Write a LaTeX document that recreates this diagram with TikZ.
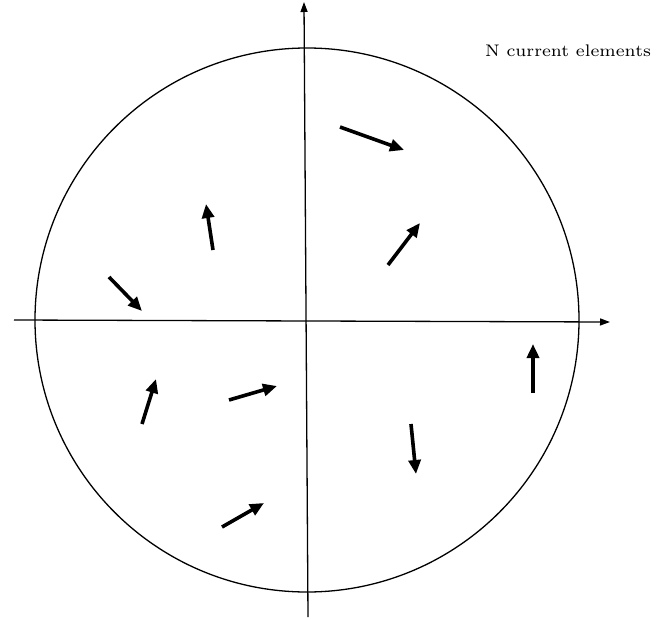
\documentclass[tikz,border=0pt]{standalone}
\usetikzlibrary{arrows.meta}
\begin{document}
\begin{tikzpicture}[x=1pt,y=-1pt,
  axis/.style={line width=1.3pt,-{Triangle[length=10pt,width=7pt]}},
  curr/.style={line width=3.6pt,-{Triangle[length=14pt,width=12pt]}},
  rim/.style={line width=1.3pt}]
\useasboundingbox (0,0) rectangle (664,621);
\node[rim,draw,circle,minimum size=544pt,inner sep=0pt] (c) at (307,320) {};
\coordinate (xl) at (14,320);
\coordinate (xr) at (610,322);
\coordinate (yb) at (308,617);
\coordinate (yt) at (304,2);
\draw[axis] (xl) -- (xr);
\draw[axis] (yb) -- (yt);
\node[font=\fontsize{7}{8}\selectfont,xscale=2.5,yscale=2.4] (lab) at (568,51) {N current elements};
\coordinate (a1) at (340,127); \coordinate (b1) at (404,150);
\coordinate (a2) at (388,265); \coordinate (b2) at (420,223);
\coordinate (a3) at (109,277); \coordinate (b3) at (142,311);
\coordinate (a4) at (213,250); \coordinate (b4) at (206,204);
\coordinate (a5) at (533,393); \coordinate (b5) at (533,344);
\coordinate (a6) at (411,424); \coordinate (b6) at (416,474);
\coordinate (a7) at (142,424); \coordinate (b7) at (156,379);
\coordinate (a8) at (229,400); \coordinate (b8) at (277,386);
\coordinate (a9) at (222,527); \coordinate (b9) at (264,503);
\foreach \i in {1,...,9} \draw[curr] (a\i) -- (b\i);
\end{tikzpicture}
\end{document}
